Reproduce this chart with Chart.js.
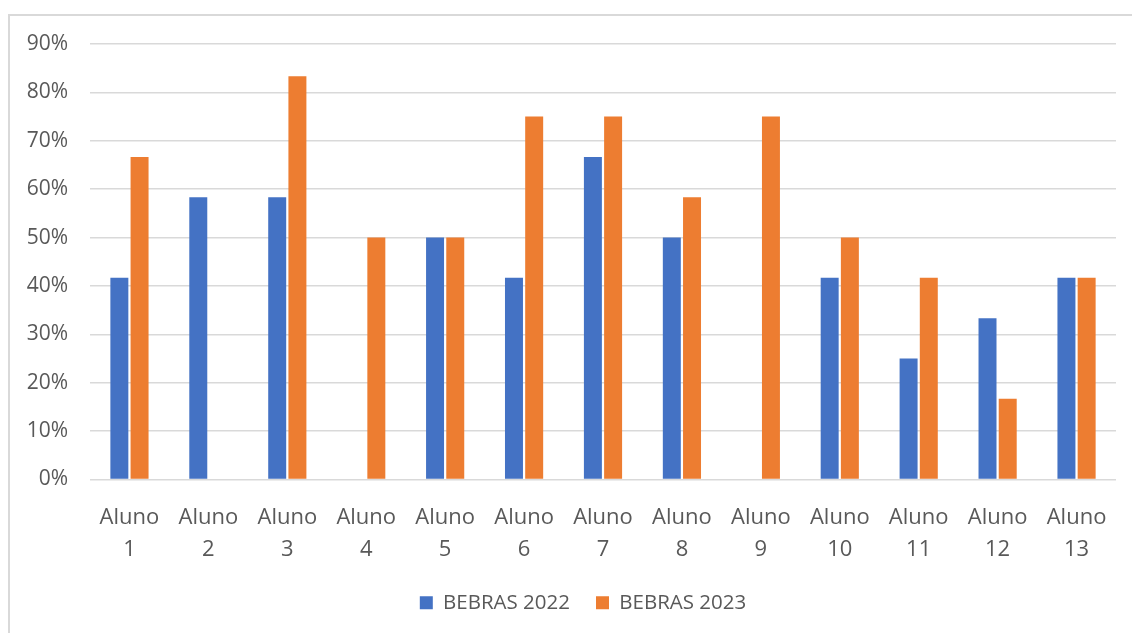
<!DOCTYPE html>
<html>
<head>
<meta charset="utf-8">
<script src="https://cdn.jsdelivr.net/npm/chart.js@4.4.1/dist/chart.umd.min.js"></script>
<style>
  html, body { margin: 0; padding: 0; background: #ffffff; }
  #wrap { position: relative; width: 1132px; height: 633px; overflow: hidden; }
  #frame {
    position: absolute; left: 8px; top: 14px; width: 1140px; height: 640px;
    border-left: 2px solid #d9d9d9; border-top: 2px solid #d9d9d9;
    box-sizing: border-box;
  }
  canvas { position: absolute; left: 0; top: 0; }
</style>
</head>
<body>
<div id="wrap">
  <div id="frame"></div>
  <canvas id="chart" width="1132" height="633"></canvas>
</div>
<script>
// Students on the category axis
const categories = [
  ["Aluno", "1"], ["Aluno", "2"], ["Aluno", "3"], ["Aluno", "4"], ["Aluno", "5"],
  ["Aluno", "6"], ["Aluno", "7"], ["Aluno", "8"], ["Aluno", "9"], ["Aluno", "10"],
  ["Aluno", "11"], ["Aluno", "12"], ["Aluno", "13"]
];

// Share of correct answers per student (fraction of 1)
const bebras2022 = [0.4167, 0.5833, 0.5833, 0, 0.50, 0.4167, 0.6667, 0.50, 0, 0.4167, 0.25, 0.3333, 0.4167];
const bebras2023 = [0.6667, 0, 0.8333, 0.50, 0.50, 0.75, 0.75, 0.5833, 0.75, 0.50, 0.4167, 0.1667, 0.4167];

const seriesLabels = ["BEBRAS 2022", "BEBRAS 2023"];

// Value axis
const yMin = 0;
const yMax = 0.9;
const yStep = 0.1;

const FONT = "'Open Sans', 'Liberation Sans', sans-serif";
const TEXT = "#595959";
const GRID = "#d9d9d9";

// Move the legend a little to the right, roughly under the plot area
const legendUnderPlot = {
  id: "legendUnderPlot",
  afterLayout(chart) {
    const lg = chart.legend;
    if (!lg) return;
    const area = chart.chartArea;
    const shift = (area.left + area.right) / 2 - (lg.left + lg.right) / 2 - 20;
    lg.left += shift;
    lg.right += shift;
  }
};

new Chart(document.getElementById("chart"), {
  type: "bar",
  data: {
    labels: categories,
    datasets: [
      { label: seriesLabels[0], data: bebras2022, backgroundColor: "#4472C4" },
      { label: seriesLabels[1], data: bebras2023, backgroundColor: "#ED7D31" }
    ]
  },
  plugins: [legendUnderPlot],
  options: {
    responsive: false,
    animation: false,
    devicePixelRatio: 1,
    datasets: {
      bar: { categoryPercentage: 0.512, barPercentage: 0.89 }
    },
    layout: { padding: { left: 0, right: 16, top: 44, bottom: 10 } },
    plugins: {
      tooltip: { enabled: false },
      legend: {
        position: "bottom",
        labels: {
          color: TEXT,
          font: { family: FONT, size: 20.5 },
          boxWidth: 13,
          boxHeight: 13,
          padding: 26,
          useBorderRadius: false
        }
      }
    },
    scales: {
      x: {
        grid: { display: false },
        border: { display: false },
        ticks: {
          color: TEXT,
          font: { family: FONT, size: 22, lineHeight: 1.45 },
          padding: 14,
          maxRotation: 0,
          autoSkip: false
        },
        afterFit(scale) { scale.height = 87; }
      },
      y: {
        min: yMin,
        max: yMax,
        grid: { color: GRID, lineWidth: 1.5, drawTicks: false },
        border: { display: false },
        ticks: {
          stepSize: yStep,
          color: TEXT,
          font: { family: FONT, size: 21 },
          padding: 22,
          callback: (v) => Math.round(v * 100) + "%"
        },
        afterFit(scale) { scale.width = 90; }
      }
    }
  }
});
</script>
</body>
</html>
